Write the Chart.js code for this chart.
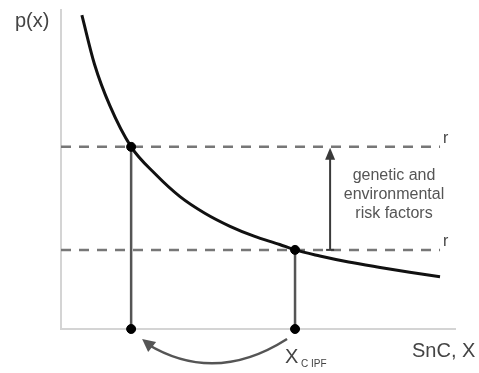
<!DOCTYPE html>
<html>
<head>
<meta charset="utf-8">
<script src="https://cdn.jsdelivr.net/npm/chart.js@4/dist/chart.umd.min.js"></script>
<style>
  html, body { margin: 0; padding: 0; background: #fff; }
  #wrap { width: 479px; height: 373px; }
</style>
</head>
<body>
<div id="wrap"><canvas id="c" width="479" height="373"></canvas></div>
<script>
// Dose-response style curve p(x) against SnC level X
const curveX = [0.53, 0.85, 1.24, 1.78, 2.4, 3.02, 3.65, 4.29, 4.9, 5.55, 5.94, 6.57, 7.3, 8.1, 8.85, 9.62];
const curveY = [9.84, 8.3, 7.0, 5.71, 4.85, 4.15, 3.63, 3.22, 2.91, 2.65, 2.48, 2.29, 2.1, 1.93, 1.78, 1.64];

// Threshold levels r (upper and lower) and where the curve crosses them
const thresholdY = [5.71, 2.48];
const crossingX = [1.78, 5.94];
const dashEndX = 9.62;
const riskArrowX = 6.83;

const axisMin = 0, axisMax = 10;

const curvePts = curveX.map((x, i) => ({ x, y: curveY[i] }));
const dashed = thresholdY.map(y => [{ x: axisMin, y }, { x: dashEndX, y }]);
const drops = crossingX.map((x, i) => [{ x, y: thresholdY[i] }, { x, y: axisMin }]);
const dots = [];
crossingX.forEach((x, i) => { dots.push({ x, y: thresholdY[i] }); dots.push({ x, y: axisMin }); });

const TEXT = '#444';
const FONT = '"Liberation Sans", Arial, sans-serif';

const annotations = {
  id: 'annotations',
  afterDraw(chart) {
    const { ctx } = chart;
    const xs = chart.scales.x, ys = chart.scales.y;
    const px = v => xs.getPixelForValue(v);
    const py = v => ys.getPixelForValue(v);
    ctx.save();

    // axis labels
    ctx.fillStyle = TEXT;
    ctx.font = '20px ' + FONT;
    ctx.textBaseline = 'alphabetic';
    ctx.textAlign = 'left';
    ctx.fillText('p(x)', 15, 27);
    ctx.fillText('SnC, X', 412, 357);

    // X with subscript at the right crossing
    const xc = px(crossingX[1]);
    ctx.fillText('X', xc - 10, 363);
    ctx.font = '10px ' + FONT;
    ctx.fillText('C IPF', xc + 6, 367);

    // r labels at the end of the dashed thresholds
    ctx.font = '16px ' + FONT;
    thresholdY.forEach(t => ctx.fillText('r', px(dashEndX) + 3, py(t) - 4));

    // explanatory text
    ctx.font = '16px ' + FONT;
    ctx.fillStyle = '#555';
    ctx.textAlign = 'center';
    const tx = 394;
    ctx.fillText('genetic and', tx, 180);
    ctx.fillText('environmental', tx, 199);
    ctx.fillText('risk factors', tx, 218);

    // vertical arrow between thresholds
    const ax = px(riskArrowX);
    const yTop = py(thresholdY[0]), yBot = py(thresholdY[1]);
    ctx.strokeStyle = '#3a3a3a';
    ctx.fillStyle = '#3a3a3a';
    ctx.lineWidth = 2;
    ctx.beginPath();
    ctx.moveTo(ax, yBot);
    ctx.lineTo(ax, yTop + 10);
    ctx.stroke();
    ctx.beginPath();
    ctx.moveTo(ax, yTop + 1);
    ctx.lineTo(ax - 5, yTop + 13);
    ctx.lineTo(ax + 5, yTop + 13);
    ctx.closePath();
    ctx.fill();
    ctx.beginPath();
    ctx.moveTo(ax - 4, yBot);
    ctx.lineTo(ax + 4, yBot);
    ctx.stroke();

    // curved arrow from the right crossing back to the left one
    const x0 = px(crossingX[1]) - 8, y0 = py(axisMin) + 10;
    const x1 = px(crossingX[0]) + 16, y1 = py(axisMin) + 15;
    ctx.strokeStyle = '#555';
    ctx.fillStyle = '#555';
    ctx.lineWidth = 2.5;
    ctx.beginPath();
    ctx.moveTo(x0, y0);
    ctx.quadraticCurveTo(215, 385, x1, y1);
    ctx.stroke();
    // arrowhead pointing up-left
    const hx = px(crossingX[0]) + 11, hy = py(axisMin) + 10;
    ctx.beginPath();
    ctx.moveTo(hx, hy);
    ctx.lineTo(hx + 14, hy + 3);
    ctx.lineTo(hx + 6, hy + 13);
    ctx.closePath();
    ctx.fill();

    ctx.restore();
  }
};

const lineDs = (data, opts) => Object.assign({
  data, showLine: true, pointRadius: 0, fill: false, clip: false
}, opts);

new Chart(document.getElementById('c'), {
  type: 'scatter',
  data: {
    datasets: [
      ...dashed.map(d => lineDs(d, { borderColor: '#777', borderWidth: 2.5, borderDash: [10, 8], order: 4 })),
      ...drops.map(d => lineDs(d, { borderColor: '#555', borderWidth: 2.5, order: 3 })),
      lineDs(curvePts, { borderColor: '#111', borderWidth: 3, cubicInterpolationMode: 'monotone', order: 2 }),
      { data: dots, pointRadius: 4.5, pointBackgroundColor: '#000', pointBorderColor: '#000', showLine: false, clip: false, order: 1 }
    ]
  },
  options: {
    responsive: false,
    animation: false,
    devicePixelRatio: 1,
    layout: { padding: { left: 61, top: 10, right: 24, bottom: 44 } },
    plugins: { legend: { display: false }, tooltip: { enabled: false } },
    scales: {
      x: {
        type: 'linear', min: axisMin, max: axisMax,
        ticks: { display: false },
        grid: { display: false, drawTicks: false },
        border: { display: true, color: '#d4d4d4', width: 2 }
      },
      y: {
        type: 'linear', min: axisMin, max: axisMax,
        ticks: { display: false },
        grid: { display: false, drawTicks: false },
        border: { display: true, color: '#d4d4d4', width: 2 }
      }
    }
  },
  plugins: [annotations]
});
</script>
</body>
</html>
